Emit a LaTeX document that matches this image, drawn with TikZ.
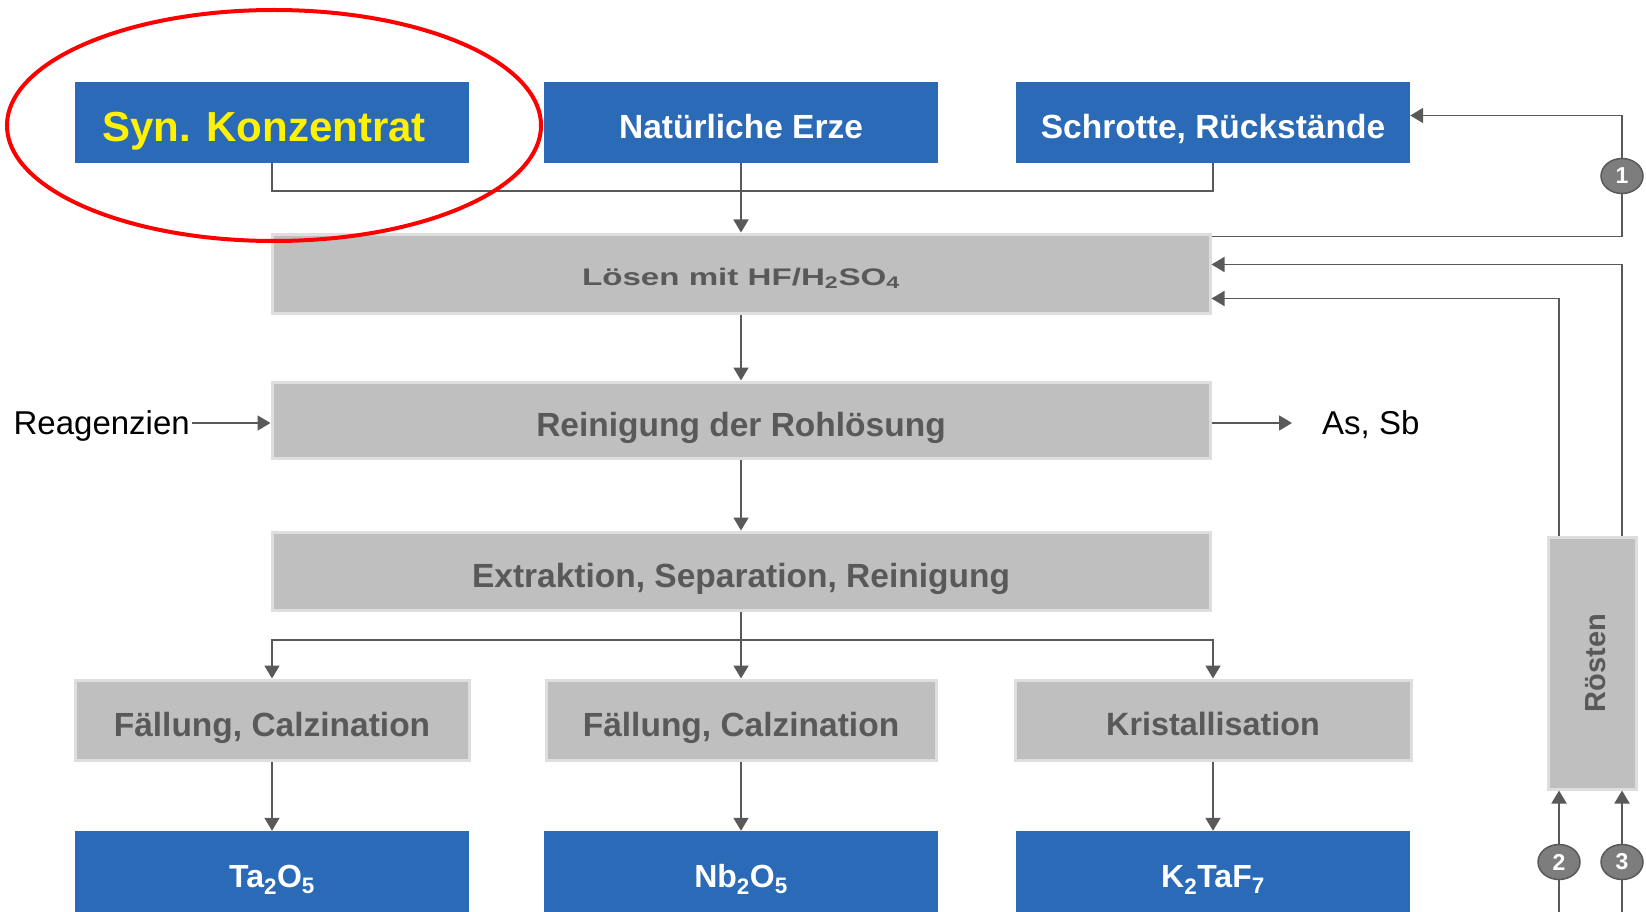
\documentclass[tikz,border=0pt]{standalone}
\usepackage{fontspec}
\setmainfont{Liberation Sans}
\usepackage{graphicx}
\usetikzlibrary{arrows.meta,shapes.geometric}
\definecolor{schemeblue}{RGB}{42,106,183}
\definecolor{stepgray}{RGB}{191,191,191}
\definecolor{stepshade}{RGB}{222,222,222}
\definecolor{darkline}{RGB}{89,89,89}
\definecolor{circlegray}{RGB}{125,125,125}

\begin{document}
\begin{tikzpicture}[x=1pt,y=-1pt,>={Triangle[length=13pt,width=15pt]}]

%
% Styles
%
\tikzstyle{product} = [rectangle,fill=schemeblue,text=white,inner sep=0pt,minimum width=394pt,minimum height=81pt,text height=32pt,text depth=0pt,font=\bfseries\fontsize{33.5}{36}\selectfont]
\tikzstyle{graybox} = [rectangle,fill=stepgray,draw=stepshade,line width=3pt,text=darkline,inner sep=0pt,minimum height=79pt,font=\bfseries\fontsize{33.5}{36}\selectfont]
\tikzstyle{process} = [graybox,text height=32pt,text depth=0pt]
\tikzstyle{sidetext} = [inner sep=0pt,text height=23pt,text depth=0pt,font=\fontsize{33}{36}\selectfont]
\tikzstyle{marker} = [ellipse,fill=circlegray,draw=darkline,line width=1.5pt,text=white,inner sep=0pt,minimum width=42pt,minimum height=35pt,font=\bfseries\fontsize{23}{24}\selectfont]
\tikzstyle{flow} = [draw=darkline,line width=1.8pt]

\useasboundingbox (0,0) rectangle (1646,912);

\node[product,text=yellow,text height=38pt,font=\bfseries\fontsize{42}{46}\selectfont] (syn) at (272,122.5) {Syn. Konzentrat\hspace*{16pt}};
\node[product] (erze)    at (741,122.5)  {Natürliche Erze};
\node[product] (schrott) at (1213,122.5) {Schrotte, Rückstände};

\node[process,minimum width=938pt,text height=23pt] (loesen) at (741,273.5) {\fontsize{24}{28}\selectfont\scalebox{1.38}[1]{Lösen mit HF/H\textsubscript{2}SO\textsubscript{4}}};
\node[process,minimum width=938pt,minimum height=76pt] (reinigung) at (741,420) {Reinigung der Rohlösung};
\node[process,minimum width=938pt,minimum height=78pt] (extraktion) at (741,571) {Extraktion, Separation, Reinigung};

\node[process,minimum width=394pt,minimum height=80pt] (faellungta) at (272,720)  {Fällung, Calzination};
\node[process,minimum width=390pt,minimum height=80pt] (faellungnb) at (741,720)  {Fällung, Calzination};
\node[process,minimum width=396pt,minimum height=80pt,text height=31pt,font=\bfseries\fontsize{32.3}{34}\selectfont] (kristall) at (1213,720) {Kristallisation};

\node[product,text height=31pt,font=\bfseries\fontsize{32}{34}\selectfont] (ta)   at (272,871.5)  {Ta\textsubscript{2}O\textsubscript{5}};
\node[product,text height=31pt,font=\bfseries\fontsize{32}{34}\selectfont] (nb)   at (741,871.5)  {Nb\textsubscript{2}O\textsubscript{5}};
\node[product,text height=31pt,font=\bfseries\fontsize{32}{34}\selectfont] (ktaf) at (1213,871.5) {K\textsubscript{2}TaF\textsubscript{7}};

\node[graybox,minimum width=88pt,minimum height=252pt,font=\bfseries\fontsize{29}{32}\selectfont] (roesten) at (1592,663) {\rotatebox{90}{\raisebox{-4pt}[\height][\depth]{Rösten}}};

\node[sidetext,anchor=east] (reagenz) at (190,423) {Reagenzien};
\node[sidetext,anchor=west] (assb) at (1322,423) {As, Sb};

\node[marker] (eins) at (1622,176) {1};
\node[marker] (zwei) at (1559,862) {2};
\node[marker] (drei) at (1622,862) {3};

\coordinate (join)   at (741,191);
\coordinate (split)  at (741,640);
\coordinate (zweiin) at (1559,912);
\coordinate (dreiin) at (1622,912);

% main line
\draw[flow] (syn) |- (join) -| (schrott);
\draw[flow,->] (erze) -- (loesen);
\draw[flow,->] (loesen) -- (reinigung);
\draw[flow,->] (reinigung) -- (extraktion);
\draw[flow,->] (extraktion) -- (faellungnb);
\draw[flow,->] (split) -| (faellungta);
\draw[flow,->] (split) -| (kristall);
\draw[flow,->] (faellungta) -- (ta);
\draw[flow,->] (faellungnb) -- (nb);
\draw[flow,->] (kristall) -- (ktaf);

\draw[flow,->,shorten <=2pt] (reagenz) -- (reagenz -| reinigung.west);
\draw[flow,->,shorten >=30pt] (reinigung.east |- assb) -- (assb.west);

% recycling
\draw[flow] ([yshift=-4pt]loesen.north east) -| (eins);
\draw[flow,->] (eins) |- ([yshift=7pt]schrott.east);
\draw[flow,->] ([xshift=30pt]roesten.north) |- ([yshift=9pt]loesen.east);
\draw[flow,->] ([xshift=-33pt]roesten.north) |- ([yshift=-25pt]loesen.east);
\draw[flow] (zweiin) -- (zwei);
\draw[flow,->] (zwei) -- (zwei |- roesten.south);
\draw[flow] (dreiin) -- (drei);
\draw[flow,->] (drei) -- (drei |- roesten.south);

\draw[red,line width=4pt] (274,125.5) ellipse [x radius=267,y radius=115.5];

\end{tikzpicture}
\end{document}
